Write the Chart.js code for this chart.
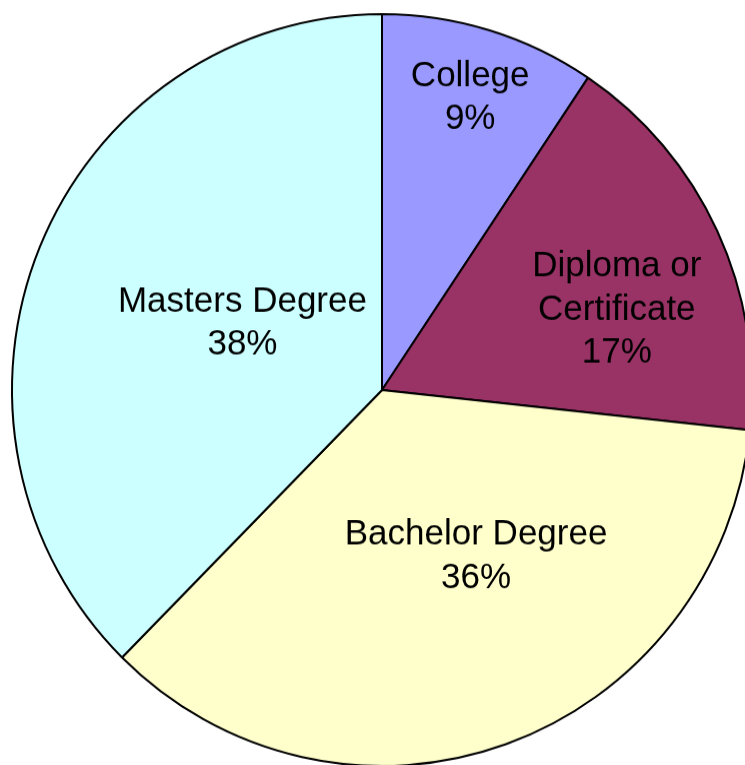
<!DOCTYPE html>
<html>
<head>
<meta charset="utf-8">
<script src="https://cdn.jsdelivr.net/npm/chart.js@4/dist/chart.umd.min.js"></script>
<style>
  html, body { margin: 0; padding: 0; background: #ffffff; overflow: hidden; width: 745px; height: 765px; }
  #wrap { position: absolute; left: 0; top: 8px; width: 764px; height: 764px; transform: scaleY(1.016); transform-origin: 382px 382px; }
</style>
</head>
<body>
<div id="wrap"><canvas id="c" width="764" height="764"></canvas></div>
<script>
const categories = ["College", "Diploma or Certificate", "Bachelor Degree", "Masters Degree"];
const labelLines = [["College"], ["Diploma or", "Certificate"], ["Bachelor Degree"], ["Masters Degree"]];
const shares = [9.4, 17.3, 35.7, 37.6];
const sliceColors = ["#9999FF", "#993366", "#FFFFCC", "#CCFFFF"];

// label placement: angle (deg clockwise from top) and fraction of radius
const labelPlacement = [
  { angle: 16.9, r: 0.82 },
  { angle: 70.8, r: 0.672 },
  { angle: 149.7, r: 0.504 },
  { angle: 296.1, r: 0.42 }
];

const labelPlugin = {
  id: 'sliceLabels',
  afterDatasetsDraw(chart) {
    const ctx = chart.ctx;
    const meta = chart.getDatasetMeta(0);
    const data = chart.data.datasets[0].data;
    const total = data.reduce((a, b) => a + b, 0);
    const fontSize = 35, lineH = 42.5, capHalf = 12.5;
    ctx.save();
    ctx.fillStyle = '#000000';
    ctx.font = fontSize + 'px "Liberation Sans", Arial, sans-serif';
    ctx.textAlign = 'center';
    ctx.textBaseline = 'alphabetic';
    meta.data.forEach((arc, i) => {
      const p = labelPlacement[i];
      const a = p.angle * Math.PI / 180;
      const cx = arc.x + Math.sin(a) * p.r * arc.outerRadius;
      const cy = arc.y - Math.cos(a) * p.r * arc.outerRadius;
      const lines = labelLines[i].concat([Math.round(data[i] / total * 100) + '%']);
      const n = lines.length;
      lines.forEach((t, j) => {
        const y = cy + (j - (n - 1) / 2) * lineH + capHalf;
        ctx.fillText(t, cx, y);
      });
    });
    ctx.restore();
  }
};

new Chart(document.getElementById('c'), {
  type: 'pie',
  data: {
    labels: categories,
    datasets: [{
      data: shares,
      backgroundColor: sliceColors,
      borderColor: '#000000',
      borderWidth: 2,
      hoverOffset: 0
    }]
  },
  options: {
    responsive: false,
    animation: false,
    devicePixelRatio: 1,
    layout: { padding: 11 },
    plugins: {
      legend: { display: false },
      tooltip: { enabled: false }
    },
    events: []
  },
  plugins: [labelPlugin]
});
</script>
</body>
</html>
